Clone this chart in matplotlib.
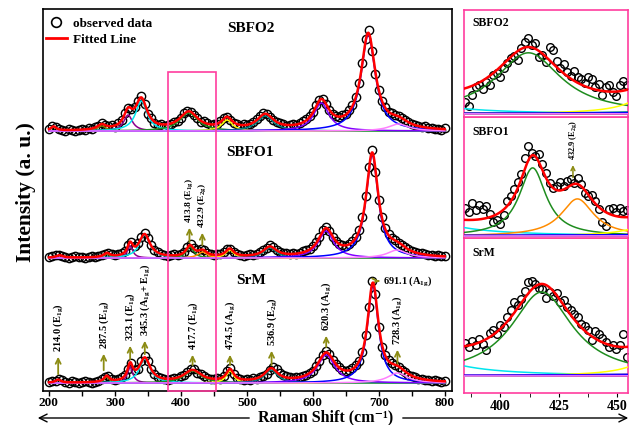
import numpy as np
import matplotlib
matplotlib.use("Agg")
import matplotlib.pyplot as plt
from matplotlib.lines import Line2D
from matplotlib.patches import Rectangle, FancyArrowPatch

plt.rcParams['font.family'] = 'Liberation Serif'
plt.rcParams['font.weight'] = 'bold'
plt.rcParams['mathtext.fontset'] = 'custom'
plt.rcParams['mathtext.rm'] = 'Liberation Serif:bold'
plt.rcParams['mathtext.it'] = 'Liberation Serif:bold'
plt.rcParams['mathtext.bf'] = 'Liberation Serif:bold'

# Raman shift grids of the observed points (main panel, zoomed panels)
shift = np.arange(200, 801, 5.0)
shift_zoom = np.arange(385, 455, 1.5)

# vertical offsets used to stack the spectra
srm_offset = 8
sbfo1_offset = 133
sbfo2_offset = 260

# observed intensities (a. u.), main panel
srm_obs = [1, 2, 2, 4, 3, 1, 0, 2, 1, 0,
           1, 2, 1, 0, 1, 2, 4, 6, 7, 4,
           3, 4, 6, 8, 14, 20, 13, 14, 22, 27,
           22, 14, 9, 6, 5, 4, 3, 4, 5, 5,
           7, 8, 11, 14, 14, 10, 9, 7, 5, 4,
           4, 5, 4, 7, 12, 15, 9, 5, 4, 3,
           4, 3, 5, 4, 6, 7, 9, 13, 16, 14,
           10, 8, 7, 6, 5, 6, 6, 7, 8, 10,
           12, 17, 22, 28, 32, 29, 23, 19, 16, 13,
           12, 13, 15, 18, 22, 31, 48, 76, 102, 89,
           56, 36, 28, 23, 20, 18, 16, 13, 11, 8,
           7, 6, 4, 4, 3, 3, 2, 3, 2, 1,
           2]
sbfo1_obs = [1, 2, 3, 3, 2, 1, 0, 1, 2, 1,
             1, 0, 1, 2, 1, 2, 3, 4, 5, 4,
             3, 4, 5, 7, 13, 16, 12, 15, 21, 25,
             20, 13, 8, 6, 4, 3, 2, 3, 4, 3,
             4, 6, 11, 14, 10, 8, 9, 8, 5, 4,
             3, 4, 4, 6, 9, 9, 6, 4, 3, 2,
             3, 4, 3, 4, 6, 8, 10, 13, 11, 8,
             6, 5, 5, 4, 5, 4, 5, 7, 8, 9,
             12, 16, 21, 28, 31, 27, 21, 17, 14, 13,
             12, 14, 17, 21, 28, 41, 62, 91, 108, 86,
             58, 41, 30, 24, 20, 18, 15, 13, 11, 9,
             7, 6, 5, 5, 4, 3, 3, 2, 3, 2,
             2]
sbfo2_obs = [2, 5, 4, 2, 1, 0, 2, 1, 0, 1,
             2, 1, 3, 2, 4, 5, 8, 6, 5, 6,
             4, 8, 11, 18, 23, 22, 24, 30, 35, 27,
             17, 13, 8, 6, 7, 5, 6, 7, 9, 10,
             13, 18, 20, 19, 16, 13, 9, 10, 8, 6,
             7, 7, 10, 13, 14, 11, 8, 7, 5, 7,
             6, 7, 9, 12, 15, 18, 17, 14, 11, 9,
             8, 7, 5, 6, 7, 6, 8, 10, 12, 15,
             19, 26, 31, 32, 27, 21, 17, 15, 14, 16,
             17, 21, 26, 34, 48, 68, 92, 101, 80, 57,
             41, 30, 24, 19, 18, 16, 15, 13, 11, 9,
             7, 6, 5, 4, 5, 3, 3, 2, 2, 1,
             3]

# observed intensities, zoomed 385-454 cm-1 region
srm_obs_zoom = [4.8, 4.2, 5.0, 4.4, 5.3, 4.6, 3.8, 6.2, 6.6, 6.0,
                7.3, 7.0, 8.4, 9.4, 10.6, 10.2, 11.0, 12.2, 13.4, 13.6,
                13.2, 12.6, 12.4, 11.2, 12.0, 11.4, 11.9, 10.6, 10.8, 9.9,
                9.4, 8.9, 8.4, 7.4, 7.2, 6.6, 5.2, 6.4, 6.0, 5.5,
                4.9, 4.1, 4.5, 3.9, 4.4, 6.0, 2.8]
sbfo1_obs_zoom = [4.6, 3.9, 5.4, 4.2, 5.0, 4.4, 4.8, 3.6, 2.2, 2.6,
                  2.0, 3.4, 5.6, 6.4, 7.6, 8.8, 10.0, 12.6, 14.6, 13.4,
                  12.9, 13.2, 11.6, 10.2, 8.6, 7.7, 8.1, 8.7, 8.0, 8.9,
                  9.2, 8.6, 9.3, 8.4, 7.0, 6.5, 6.6, 5.6, 4.4, 2.2,
                  1.6, 4.3, 4.6, 3.9, 4.5, 4.0, 4.2]
sbfo2_obs_zoom = [3.5, 2.4, 5.6, 7.8, 8.4, 7.2, 9.5, 8.4, 11.6, 12.2,
                  10.8, 13.5, 15.0, 16.6, 17.2, 15.8, 19.4, 21.2, 22.4, 20.4,
                  21.0, 16.8, 17.4, 15.2, 19.6, 18.8, 15.6, 13.4, 14.6, 12.4,
                  11.2, 12.6, 11.0, 10.4, 9.0, 10.9, 10.2, 8.0, 8.8, 5.6,
                  7.9, 8.6, 6.6, 5.2, 8.4, 9.8, 8.6]

# Lorentzian fit components: centre (cm-1), height, half width
srm_pos = [214.0, 287.5, 323.1, 345.3, 417.7, 474.5, 536.9, 620.3, 691.1, 728.3]
srm_amp = [3, 6, 16, 24, 12, 12, 13, 28, 97, 10]
srm_hw = [5, 5, 5, 10, 16, 7, 12, 16, 10, 18]
srm_col = ['#808000', '#808000', '#8b008b', '#00e5ee', '#1e8c1e', '#ffff00',
           '#008080', '#8000ff', '#0000ff', '#ff80ff']

sbfo1_pos = [216, 288, 323, 345, 413.8, 432.9, 474, 535, 620, 690, 728]
sbfo1_amp = [2.5, 4, 12, 23, 11, 6, 8, 10, 27, 103, 8]
sbfo1_hw = [6, 6, 5, 10, 7, 8.5, 7.6, 12, 14, 11, 18]
sbfo1_col = ['#808000', '#808000', '#8b008b', '#00e5ee', '#1e8c1e', '#ff8c00',
             '#ffff00', '#008080', '#8000ff', '#0000ff', '#ff80ff']

sbfo2_pos = [207, 280, 320, 340, 412, 470, 528, 613, 684, 730]
sbfo2_amp = [4, 5, 16, 30, 18, 11, 15, 28, 96, 7]
sbfo2_hw = [5, 8, 8, 10.5, 17, 10, 15, 14, 13, 18]
sbfo2_col = ['#808000', '#808000', '#8b008b', '#00e5ee', '#1e8c1e', '#ffff00',
             '#008080', '#8000ff', '#0000ff', '#ff80ff']

# SrM peak assignments
srm_lab_x = [214.0, 283, 323.1, 345.3, 417.7, 474.5, 537.5, 620.3, 728.3]
srm_lab = ['214.0 (E$_\\mathrm{1g}$)', '287.5 (E$_\\mathrm{1g}$)',
           '323.1 (E$_\\mathrm{1g}$)', '345.3 (A$_\\mathrm{1g}$+ E$_\\mathrm{1g}$)',
           '417.7 (E$_\\mathrm{1g}$)', '474.5 (A$_\\mathrm{1g}$)',
           '536.9 (E$_\\mathrm{2g}$)', '620.3 (A$_\\mathrm{1g}$)',
           '728.3 (A$_\\mathrm{1g}$)']
sbfo1_lab_x = [413.0, 432.5]
sbfo1_lab = ['413.8 (E$_\\mathrm{1g}$)', '432.9 (E$_\\mathrm{2g}$)']

base_col = '#d070f0'
pink = '#ff3d9e'
olive = '#8c8c14'


def lor(x, c, a, w):
    return a / (1 + ((x - c) / w) ** 2)


def model(x, pos, amp, hw):
    y = np.zeros_like(x)
    for c, a, w in zip(pos, amp, hw):
        y = y + lor(x, c, a, w)
    return y


samples = [
    ('SrM', srm_offset, srm_obs, srm_obs_zoom, srm_pos, srm_amp, srm_hw, srm_col),
    ('SBFO1', sbfo1_offset, sbfo1_obs, sbfo1_obs_zoom, sbfo1_pos, sbfo1_amp,
     sbfo1_hw, sbfo1_col),
    ('SBFO2', sbfo2_offset, sbfo2_obs, sbfo2_obs_zoom, sbfo2_pos, sbfo2_amp,
     sbfo2_hw, sbfo2_col),
]


def draw(ax, xs, xo, yo, off, pos, amp, hw, cols, ms):
    ax.plot([xs[0], xs[-1]], [off, off], color=base_col, lw=1.2, zorder=2)
    for c, a, w, col in zip(pos, amp, hw, cols):
        ax.plot(xs, off + lor(xs, c, a, w), color=col, lw=1.1, zorder=3)
    ax.plot(xo, off + np.array(yo), 'o', mfc='none', mec='k', ms=ms, mew=1.0,
            zorder=2.5)
    ax.plot(xs, off + model(xs, pos, amp, hw), color='red', lw=1.8, zorder=4)


fig = plt.figure(figsize=(6.37, 4.25), dpi=100)
ax = fig.add_axes([43 / 637, 34 / 425, 409 / 637, 382 / 425])
xs = np.linspace(200, 800, 2000)
for name, off, obs, obs_z, pos, amp, hw, cols in samples:
    draw(ax, xs, shift, obs, off, pos, amp, hw, cols, 6)

ax.set_xlim(191, 811)
ax.set_ylim(0, 382)
ax.set_yticks([])
ax.set_xticks([200, 300, 400, 500, 600, 700, 800])
ax.set_xticks(np.arange(250, 800, 100), minor=True)
ax.tick_params(axis='x', which='both', direction='out', length=3.5, width=1,
               labelsize=9.5, pad=1)
for s in ax.spines.values():
    s.set_linewidth(1.2)

ax.add_patch(Rectangle((380, 0), 73, 319, fill=False, ec=pink, lw=1.2,
                       zorder=5, clip_on=False))

ax.text(506, 363, 'SBFO2', ha='center', va='center', fontsize=11)
ax.text(504, 239, 'SBFO1', ha='center', va='center', fontsize=11)
ax.text(507, 111, 'SrM', ha='center', va='center', fontsize=11)

srm_arrow_lo = [14, 18, 29, 34, 23, 23, 23, 41, 24]
srm_arrow_hi = [37, 40, 48, 53, 39, 39, 43, 58, 44]
for x, lab, lo, hi in zip(srm_lab_x, srm_lab, srm_arrow_lo, srm_arrow_hi):
    ax.annotate('', xy=(x, hi), xytext=(x, lo),
                arrowprops=dict(arrowstyle='->', color=olive, lw=1.3,
                                mutation_scale=9))
    ax.text(x, hi + 2, lab, rotation=90, ha='center', va='bottom', fontsize=7.5)

ax.annotate('', xy=(705, 110), xytext=(695, 110),
            arrowprops=dict(arrowstyle='->', color=olive, lw=1.3, mutation_scale=9))
ax.text(706, 110, '691.1 (A$_\\mathrm{1g}$)', ha='left', va='center', fontsize=7.5)

sbfo1_arrow_lo = [146, 143]
sbfo1_arrow_hi = [166, 161]
for x, lab, lo, hi in zip(sbfo1_lab_x, sbfo1_lab, sbfo1_arrow_lo, sbfo1_arrow_hi):
    ax.annotate('', xy=(x, hi), xytext=(x, lo),
                arrowprops=dict(arrowstyle='->', color=olive, lw=1.3,
                                mutation_scale=9))
    ax.text(x, hi + 2, lab, rotation=90, ha='center', va='bottom', fontsize=6.8)

handles = [Line2D([], [], ls='none', marker='o', mfc='none', mec='k', ms=7, mew=1.2),
           Line2D([], [], color='red', lw=2)]
ax.legend(handles, ['observed data', 'Fitted Line'], loc='upper left',
          bbox_to_anchor=(0.0, 0.985), frameon=False, fontsize=9.5,
          handlelength=1.6, handletextpad=0.5, borderaxespad=0, borderpad=0.2,
          labelspacing=0.3)

fig.text(26 / 637, 1 - 192 / 425, 'Intensity (a. u.)', rotation=90,
         ha='center', va='center', fontsize=15.5)
fig.text(326 / 637, 4 / 425, 'Raman Shift (cm\u207b\u00b9)', ha='center',
         va='baseline', fontsize=11.5,
         family=['Liberation Serif', 'DejaVu Serif'])
fig.add_artist(FancyArrowPatch((252, 7), (35, 7), arrowstyle='->',
                               mutation_scale=14, lw=1, color='k', transform=None))
fig.add_artist(FancyArrowPatch((400, 7), (631, 7), arrowstyle='->',
                               mutation_scale=14, lw=1, color='k', transform=None))

# zoomed panels of the 385-455 cm-1 region
inset_rect = {'SBFO2': (10, 117), 'SBFO1': (117, 238), 'SrM': (238, 393)}
inset_ylim = {'SBFO2': (259.1, 290.6), 'SBFO1': (132.7, 152.2), 'SrM': (5.6, 27.7)}
xs_in = np.linspace(384.5, 454.5, 500)
for name, off, obs, obs_z, pos, amp, hw, cols in samples:
    top, bot = inset_rect[name]
    iax = fig.add_axes([464 / 637, 1 - bot / 425, 164 / 637, (bot - top) / 425])
    draw(iax, xs_in, shift_zoom, obs_z, off, pos, amp, hw, cols, 5.5)
    iax.set_xlim(384.5, 454.5)
    iax.set_ylim(*inset_ylim[name])
    iax.set_yticks([])
    for s in iax.spines.values():
        s.set_color(pink)
        s.set_linewidth(1.2)
    iax.text(0.05, 0.88 if name != 'SrM' else 0.9, name, transform=iax.transAxes,
             ha='left', va='center', fontsize=8.5)
    if name == 'SrM':
        iax.set_xticks([400, 425, 450])
        iax.set_xticks([387.5, 412.5, 437.5], minor=True)
        iax.tick_params(axis='x', which='both', direction='out', length=3,
                        labelsize=10, pad=2)
    else:
        iax.set_xticks([])
    if name == 'SBFO1':
        iax.annotate('', xy=(431, 144.9), xytext=(431, 142.0),
                     arrowprops=dict(arrowstyle='->', color=olive, lw=1.1,
                                     mutation_scale=7))
        iax.text(431, 145.2, '432.9 (E$_\\mathrm{2g}$)', rotation=90, ha='center',
                 va='bottom', fontsize=6, clip_on=True)

fig.savefig('out.png', dpi=100)
